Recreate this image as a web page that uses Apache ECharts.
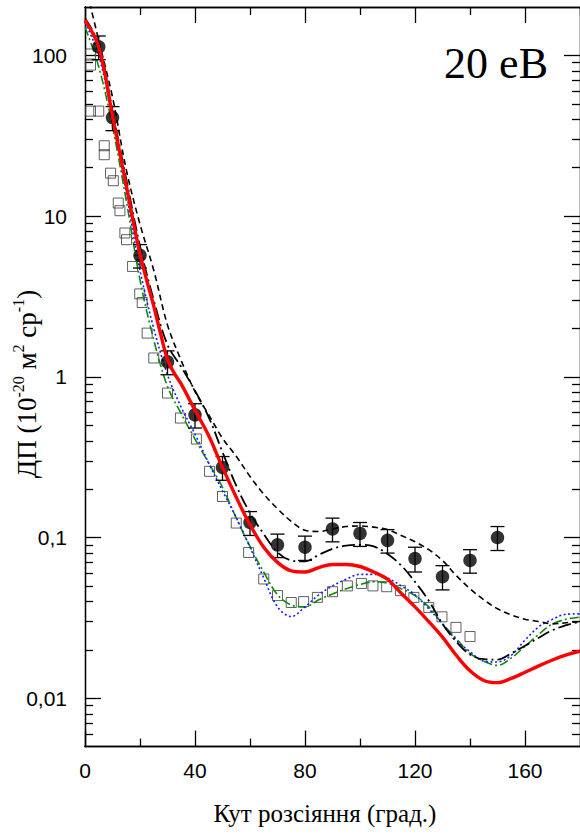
<!DOCTYPE html>
<html>
<head>
<meta charset="utf-8">
<script src="https://cdn.jsdelivr.net/npm/echarts@6/dist/echarts.min.js"></script>
<style>
html,body{margin:0;padding:0;background:#fff;}
#chart{width:580px;height:834px;}
</style>
</head>
<body>
<div id="chart"></div>
<script>
// ---------- data ----------
const xTickLabels = [0, 40, 80, 120, 160];
const xMinorTicks = [20, 60, 100, 140, 180];
const yMajorTicks = [0.01, 0.1, 1, 10, 100];
const yTickLabels = ['0,01', '0,1', '1', '10', '100'];
const yMinorTicks = [0.006, 0.007, 0.008, 0.009,
  0.02, 0.03, 0.04, 0.05, 0.06, 0.07, 0.08, 0.09,
  0.2, 0.3, 0.4, 0.5, 0.6, 0.7, 0.8, 0.9,
  2, 3, 4, 5, 6, 7, 8, 9,
  20, 30, 40, 50, 60, 70, 80, 90];

// experiment 1 (filled circles with error bars)
const expAngles = [5, 10, 20, 30, 40, 50, 60, 70, 80, 90, 100, 110, 120, 130, 140, 150];
const expValues = [113, 41, 5.7, 1.24, 0.58, 0.273, 0.124, 0.090, 0.087, 0.113, 0.106, 0.096, 0.074, 0.057, 0.072, 0.100];
const expErrors = [19, 7, 0.95, 0.21, 0.1, 0.046, 0.021, 0.015, 0.015, 0.019, 0.018, 0.016, 0.013, 0.0098, 0.012, 0.017];

// experiment 2 (open squares)
const sqAngles = [2, 2, 2, 5, 7, 7, 9.3, 10.3, 12.1, 12.7, 14.5, 15.1, 17.3, 19.9, 20.8, 22.6, 25, 30, 34.7, 40.5, 45.3, 50, 55, 59.5, 65, 70, 75, 79.5, 84.5, 90, 95.4, 100.5, 104.7, 109.7, 114.7, 119.6, 125, 129.8, 134.9, 140];
const sqValues = [102, 87, 45, 45, 27.4, 24.1, 18.5, 16.6, 12.06, 10.8, 7.85, 7.13, 4.86, 3.28, 2.9, 1.87, 1.31, 0.792, 0.554, 0.41, 0.258, 0.18, 0.123, 0.0807, 0.0552, 0.0435, 0.0394, 0.0399, 0.0424, 0.046, 0.050, 0.0518, 0.050, 0.0494, 0.0467, 0.0424, 0.0367, 0.0321, 0.0276, 0.0242];

// theory curves
const curveAngles = [0, 5, 10, 15, 20, 25, 30, 35, 40, 45, 50, 55, 60, 65, 70, 75, 80, 85, 90, 95, 100, 105, 110, 115, 120, 125, 130, 135, 140, 145, 150, 155, 160, 165, 170, 175, 180];
const redAngles = [0, 5, 10, 15, 20, 25, 27.5, 30, 32.5, 35, 40, 45, 50, 55, 60, 65, 70, 75, 80, 85, 90, 95, 100, 105, 110, 115, 120, 125, 130, 135, 140, 145, 150, 155, 160, 165, 170, 175, 180];
const redCurve = [165, 113, 42, 15.5, 5.8, 2.75, 1.85, 1.28, 1.05, 0.90, 0.62, 0.43, 0.273, 0.178, 0.120, 0.087, 0.070, 0.062, 0.061, 0.065, 0.068, 0.068, 0.066, 0.061, 0.055, 0.045, 0.037, 0.030, 0.024, 0.0185, 0.0148, 0.0129, 0.0125, 0.0133, 0.0145, 0.0159, 0.0173, 0.0186, 0.0196];
const dashCurve = [280, 124, 55, 19.5, 8.9, 4.6, 2.1, 1.26, 0.81, 0.58, 0.415, 0.32, 0.24, 0.186, 0.151, 0.126, 0.111, 0.109, 0.113, 0.117, 0.118, 0.116, 0.112, 0.103, 0.094, 0.084, 0.072, 0.058, 0.048, 0.041, 0.036, 0.033, 0.031, 0.030, 0.029, 0.0295, 0.030];
const dashDotCurve = [170, 118, 45, 17, 6.5, 3.0, 1.58, 1.15, 0.82, 0.56, 0.34, 0.21, 0.142, 0.105, 0.081, 0.072, 0.071, 0.078, 0.085, 0.089, 0.090, 0.088, 0.079, 0.067, 0.053, 0.0405, 0.029, 0.0225, 0.0187, 0.0175, 0.0174, 0.019, 0.0212, 0.0238, 0.0265, 0.0285, 0.030];
const greenCurve = [150, 85, 36, 12.5, 4.0, 1.7, 0.87, 0.59, 0.41, 0.29, 0.205, 0.132, 0.088, 0.061, 0.044, 0.038, 0.037, 0.041, 0.0445, 0.048, 0.051, 0.053, 0.052, 0.048, 0.0435, 0.037, 0.029, 0.0235, 0.019, 0.017, 0.016, 0.0178, 0.021, 0.025, 0.029, 0.031, 0.032];
const blueCurve = [160, 100, 40, 14, 4.6, 2.0, 1.03, 0.645, 0.44, 0.29, 0.195, 0.133, 0.087, 0.056, 0.037, 0.0322, 0.037, 0.044, 0.050, 0.055, 0.059, 0.059, 0.056, 0.050, 0.044, 0.036, 0.029, 0.023, 0.0195, 0.017, 0.0168, 0.0185, 0.023, 0.0278, 0.031, 0.0333, 0.0335];

// ---------- build ----------
const pairs = (xs, ys) => xs.map((x, i) => [x, ys[i]]);
const errData = expAngles.map((x, i) => [x, expValues[i] - expErrors[i], expValues[i] + expErrors[i]]);

const black = '#000';
const serif = "'Liberation Serif', 'Times New Roman', 'DejaVu Serif', serif";
const axisLineStyle = { color: black, width: 1.3 };
const tickStyle = { color: black, width: 1.3 };
const labelFont = { fontFamily: "'Liberation Sans', Arial, sans-serif", fontSize: 21, color: black };

const xBase = (pos, ticks, len, showLabel) => ({
  type: 'value', min: 0, max: 180, interval: 40, position: pos,
  axisLine: { show: true, onZero: false, lineStyle: axisLineStyle },
  axisTick: { show: true, inside: true, length: len, customValues: ticks, lineStyle: tickStyle },
  axisLabel: showLabel ? Object.assign({ show: true, margin: 13, customValues: xTickLabels,
    formatter: v => (xTickLabels.indexOf(v) >= 0 ? String(v) : '') }, labelFont) : { show: false },
  splitLine: { show: false }
});
const yBase = (pos, ticks, len, showLabel) => ({
  type: 'log', logBase: 10, min: 0.005, max: 200, position: pos,
  axisLine: { show: true, onZero: false, lineStyle: axisLineStyle },
  axisTick: { show: true, inside: true, length: len, customValues: ticks, lineStyle: tickStyle },
  axisLabel: showLabel ? Object.assign({ show: true, margin: 18, customValues: yMajorTicks,
    formatter: v => { const k = yMajorTicks.findIndex(t => Math.abs(t - v) / t < 1e-6); return k >= 0 ? yTickLabels[k] : ''; } }, labelFont) : { show: false },
  splitLine: { show: false }
});

const lineSeries = (name, data, color, width, type, z) => ({
  name, type: 'line', data, xAxisIndex: 0, yAxisIndex: 0,
  showSymbol: false, symbol: 'none', smooth: 0.35, z,
  lineStyle: { color, width, type, cap: 'butt' }, silent: true, animation: false
});

const chart = echarts.init(document.getElementById('chart'), null, { renderer: 'svg' });
chart.setOption({
  animation: false,
  backgroundColor: '#fff',
  grid: { left: 85, top: 7, width: 497, height: 739.6, containLabel: false },
  xAxis: [
    xBase('bottom', xTickLabels, 16, true),
    xBase('bottom', xMinorTicks, 8, false),
    xBase('top', xTickLabels, 16, false),
    xBase('top', xMinorTicks, 8, false)
  ],
  yAxis: [
    yBase('left', yMajorTicks, 16, true),
    yBase('left', yMinorTicks, 8, false),
    yBase('right', yMajorTicks, 16, false),
    yBase('right', yMinorTicks, 8, false)
  ],
  series: [
    {
      name: 'squares', type: 'scatter', data: pairs(sqAngles, sqValues), z: 2,
      symbol: 'rect', symbolSize: 10,
      itemStyle: { color: 'rgba(0,0,0,0)', borderColor: '#3a3a3a', borderWidth: 1 }
    },
    lineSeries('green', pairs(curveAngles, greenCurve), '#0a8a0a', 1.6, [9, 3, 2, 3], 3),
    lineSeries('blue', pairs(curveAngles, blueCurve), '#1a1aff', 1.6, [2, 2.5], 3),
    lineSeries('dash', pairs(curveAngles, dashCurve), black, 1.6, [6, 4], 4),
    lineSeries('dashdot', pairs(curveAngles, dashDotCurve), black, 1.8, [13, 4, 2, 4], 4),
    {
      name: 'errors', type: 'custom', data: errData, z: 5,
      renderItem: (params, api) => {
        const x = api.value(0);
        const lo = api.coord([x, api.value(1)]);
        const hi = api.coord([x, api.value(2)]);
        const hw = 7;
        const st = { stroke: black, lineWidth: 1.3 };
        return {
          type: 'group', children: [
            { type: 'line', shape: { x1: lo[0], y1: lo[1], x2: hi[0], y2: hi[1] }, style: st },
            { type: 'line', shape: { x1: lo[0] - hw, y1: lo[1], x2: lo[0] + hw, y2: lo[1] }, style: st },
            { type: 'line', shape: { x1: hi[0] - hw, y1: hi[1], x2: hi[0] + hw, y2: hi[1] }, style: st }
          ]
        };
      }
    },
    {
      name: 'experiment', type: 'scatter', data: pairs(expAngles, expValues), z: 6,
      symbol: 'circle', symbolSize: 13.5, itemStyle: { color: black }
    },
    lineSeries('red', pairs(redAngles, redCurve), '#ff0000', 3.4, 'solid', 7)
  ],
  graphic: [
    {
      type: 'text', x: 548, y: 63, z: 100,
      style: { text: '20 еВ', align: 'right', verticalAlign: 'middle',
        fontFamily: serif, fontSize: 44, fill: black }
    },
    {
      type: 'text', x: 325, y: 813, z: 100,
      style: { text: 'Кут розсіяння (град.)', align: 'center', verticalAlign: 'middle',
        fontFamily: serif, fontSize: 25, fill: black }
    },
    {
      type: 'text', x: 25.5, y: 384, rotation: Math.PI / 2, z: 100,
      style: {
        text: '{a|ДП (10}{s|-20}{a| м}{s|2}{a| ср}{s|-1}{a|)}',
        align: 'center', verticalAlign: 'middle',
        rich: {
          a: { fontFamily: serif, fontSize: 27, lineHeight: 30, fill: black, verticalAlign: 'bottom' },
          s: { fontFamily: serif, fontSize: 16, lineHeight: 16, fill: black, verticalAlign: 'top' }
        }
      }
    }
  ]
});
</script>
</body>
</html>
